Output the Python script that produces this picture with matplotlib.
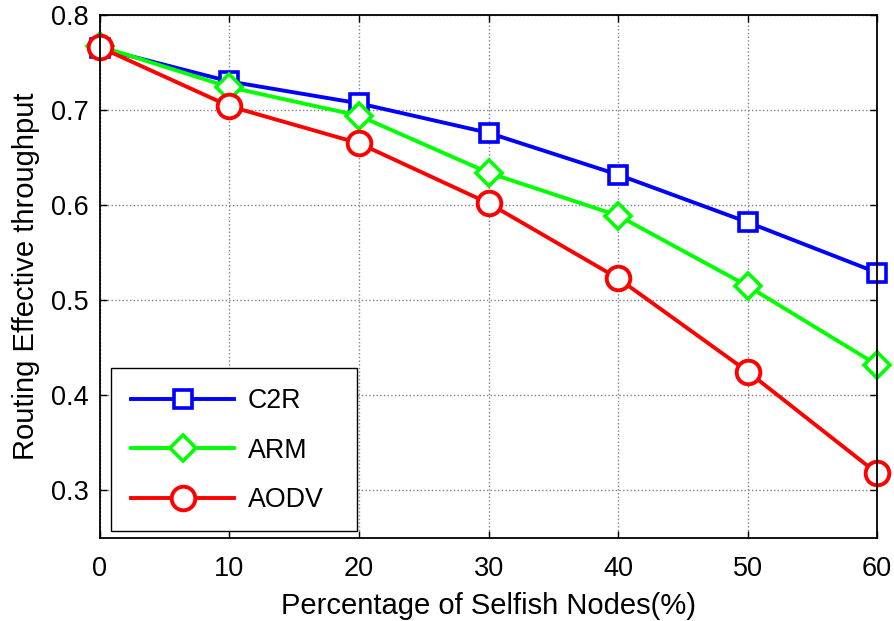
import matplotlib
matplotlib.use("Agg")
import matplotlib.pyplot as plt
from matplotlib.patches import Rectangle

x = [0, 10, 20, 30, 40, 50, 60]
c2r = [0.765, 0.730, 0.707, 0.676, 0.632, 0.582, 0.529]
arm = [0.767, 0.724, 0.694, 0.634, 0.589, 0.515, 0.432]
aodv = [0.766, 0.704, 0.665, 0.602, 0.523, 0.425, 0.318]
labels = ["C2R", "ARM", "AODV"]

plt.rcParams['font.family'] = ['Liberation Sans', 'DejaVu Sans']
fig = plt.figure(figsize=(8.95, 6.21), dpi=100)
ax = fig.add_axes([0.1117, 0.1337, 0.8683, 0.8423])

lw = 2.8
ax.plot(x, c2r, color='#0000ff', lw=lw, marker='s', markersize=13, markerfacecolor='white',
        markeredgewidth=2.6, markeredgecolor='#0000ff', label=labels[0])
ax.plot(x, arm, color='#00ff00', lw=lw, marker='D', markersize=13.5, markerfacecolor='white',
        markeredgewidth=2.6, markeredgecolor='#00ff00', label=labels[1])
ax.plot(x, aodv, color='#ff0000', lw=lw, marker='o', markersize=17, markerfacecolor='white',
        markeredgewidth=2.8, markeredgecolor='#ff0000', label=labels[2])

ax.set_xlim(0, 60)
ax.set_ylim(0.25, 0.8)
ax.set_xticks(x)
ax.set_yticks([0.3, 0.4, 0.5, 0.6, 0.7, 0.8])
ax.set_yticklabels(["0.3", "0.4", "0.5", "0.6", "0.7", "0.8"])
ax.tick_params(labelsize=19.5, direction='in', length=5, width=1, top=True, right=True)
ax.tick_params(axis='x', pad=13)
ax.tick_params(axis='y', pad=8)
ax.grid(True, color='#808080', linestyle=':', linewidth=1)
for s in ax.spines.values():
    s.set_linewidth(1.3)
for t in ax.get_lines():
    t.set_clip_on(False)

ax.set_xlabel("Percentage of Selfish Nodes(%)", fontsize=21, labelpad=7)
ax.set_ylabel("Routing Effective throughput", fontsize=21, labelpad=8)

# legend frame (MATLAB-style box with extra right padding)
frame = Rectangle((0.0142, 0.0134), 0.3166, 0.3115, transform=ax.transAxes,
                  facecolor='white', edgecolor='black', linewidth=1.0, zorder=4)
ax.add_patch(frame)
leg = ax.legend(loc='lower left', bbox_to_anchor=(0.0399, 0.047), fontsize=19.3, frameon=False,
                handlelength=3.85, labelspacing=0.88,
                borderpad=0, handletextpad=0.5, borderaxespad=0)
leg.set_zorder(5)

fig.savefig("out.png", dpi=100)
